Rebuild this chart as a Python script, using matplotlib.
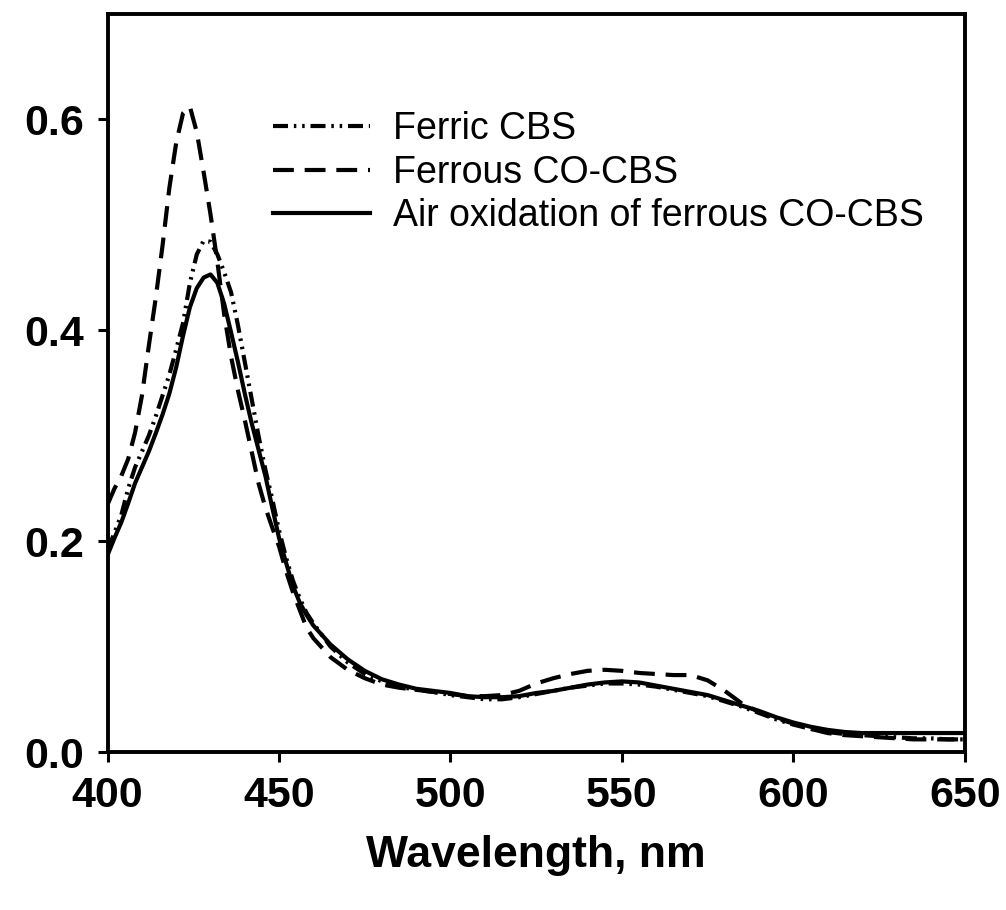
#!/usr/bin/env python3
"""UV-vis spectra of CBS: ferric, ferrous CO and air-oxidised ferrous CO."""

import matplotlib

matplotlib.use("Agg")
import matplotlib.pyplot as plt

# wavelength grid (nm) shared by all three spectra
wavelength = [
    400, 402, 404, 406, 408, 410, 412, 414, 416, 418, 420, 422, 424, 426, 428,
    430, 432, 434, 436, 438, 440, 442, 444, 446, 448, 450, 452, 454, 456, 458,
    460, 465, 470, 475, 480, 485, 490, 495, 500, 505, 510, 515, 520, 525, 530,
    535, 540, 545, 550, 555, 560, 565, 570, 575, 580, 585, 590, 595, 600, 605,
    610, 615, 620, 625, 630, 635, 640, 645, 650,
]

ferric = [
    0.192, 0.208, 0.225, 0.250, 0.270, 0.285, 0.300, 0.318, 0.338, 0.358, 0.382,
    0.407, 0.445, 0.472, 0.485, 0.484, 0.472, 0.455, 0.436, 0.405, 0.370, 0.335,
    0.300, 0.268, 0.240, 0.210, 0.185, 0.163, 0.146, 0.132, 0.122, 0.100, 0.085,
    0.074, 0.067, 0.062, 0.059, 0.057, 0.054, 0.052, 0.050, 0.050, 0.052, 0.055,
    0.058, 0.061, 0.063, 0.065, 0.065, 0.064, 0.062, 0.059, 0.056, 0.053, 0.048,
    0.043, 0.037, 0.031, 0.026, 0.022, 0.019, 0.017, 0.016, 0.015, 0.014, 0.013,
    0.013, 0.012, 0.012,
]

ferrous_co = [
    0.235, 0.250, 0.262, 0.278, 0.303, 0.338, 0.385, 0.430, 0.480, 0.535, 0.578,
    0.606, 0.612, 0.588, 0.550, 0.510, 0.465, 0.415, 0.375, 0.343, 0.315, 0.285,
    0.255, 0.232, 0.213, 0.195, 0.172, 0.152, 0.135, 0.118, 0.108, 0.090, 0.078,
    0.070, 0.064, 0.061, 0.059, 0.057, 0.055, 0.053, 0.053, 0.054, 0.058, 0.065,
    0.070, 0.074, 0.077, 0.078, 0.077, 0.075, 0.074, 0.073, 0.073, 0.068, 0.058,
    0.046, 0.038, 0.032, 0.027, 0.022, 0.018, 0.016, 0.015, 0.014, 0.013, 0.012,
    0.012, 0.012, 0.012,
]

air_oxidised = [
    0.187, 0.203, 0.218, 0.236, 0.255, 0.270, 0.285, 0.302, 0.320, 0.340, 0.365,
    0.395, 0.422, 0.440, 0.450, 0.453, 0.445, 0.425, 0.398, 0.370, 0.340, 0.312,
    0.287, 0.262, 0.232, 0.203, 0.180, 0.158, 0.142, 0.130, 0.120, 0.102, 0.088,
    0.077, 0.069, 0.064, 0.060, 0.058, 0.056, 0.053, 0.052, 0.052, 0.053, 0.056,
    0.058, 0.061, 0.064, 0.066, 0.067, 0.066, 0.063, 0.060, 0.057, 0.054, 0.049,
    0.044, 0.039, 0.033, 0.028, 0.024, 0.021, 0.019, 0.018, 0.018, 0.018, 0.018,
    0.018, 0.018, 0.018,
]

labels = ["Ferric CBS", "Ferrous CO-CBS", "Air oxidation of ferrous CO-CBS"]
x_ticks = [400, 450, 500, 550, 600, 650]
y_ticks = [0.0, 0.2, 0.4, 0.6]

plt.rcParams["font.family"] = ["Liberation Sans", "DejaVu Sans"]

fig = plt.figure(figsize=(10.06, 9.10), dpi=100)
ax = fig.add_axes([0.107, 0.1736, 0.852, 0.8110])

lw = 3.0
ax.plot(wavelength, ferric, color="black", lw=lw,
        linestyle=(0, (3.6, 1.4, 0.6, 1.4, 0.6, 1.4)), label=labels[0])
ax.plot(wavelength, ferrous_co, color="black", lw=lw,
        linestyle=(0, (5.0, 2.6)), label=labels[1])
ax.plot(wavelength, air_oxidised, color="black", lw=lw,
        linestyle="-", label=labels[2])

ax.set_xlim(400, 650)
ax.set_ylim(0, 0.7)
ax.set_xticks(x_ticks)
ax.set_yticks(y_ticks)
ax.set_xticklabels([str(v) for v in x_ticks])
ax.set_yticklabels([f"{v:.1f}" for v in y_ticks])
ax.tick_params(axis="both", direction="out", length=7, width=2.2,
               labelsize=31, pad=10)
for lab in ax.get_xticklabels() + ax.get_yticklabels():
    lab.set_fontweight("bold")
for sp in ax.spines.values():
    sp.set_linewidth(2.8)

ax.set_xlabel("Wavelength, nm", fontsize=32, fontweight="bold", labelpad=14)

ax.legend(loc="upper left", bbox_to_anchor=(0.1925, 0.868), frameon=False,
          fontsize=27, handlelength=2.6, handletextpad=0.6, labelspacing=0.2,
          borderpad=0, borderaxespad=0)

fig.savefig("out.png", dpi=100)
